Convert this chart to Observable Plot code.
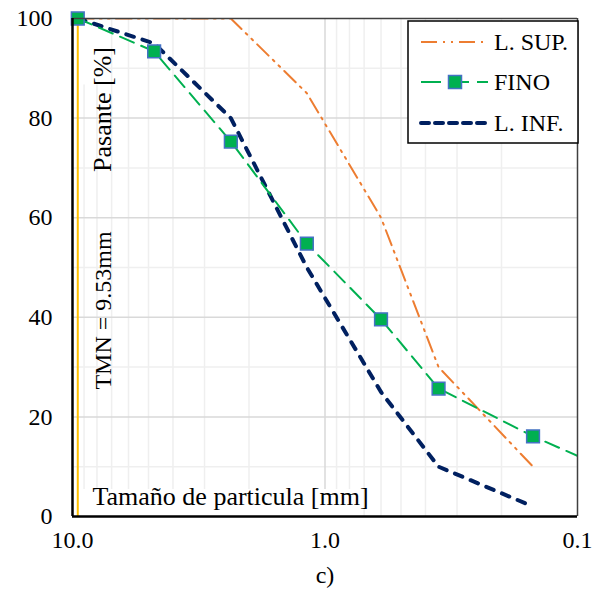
<!DOCTYPE html>
<html>
<head>
<meta charset="utf-8">
<script src="https://cdn.jsdelivr.net/npm/d3@7"></script>
<script src="https://cdn.jsdelivr.net/npm/@observablehq/plot@0.6"></script>
<style>
  html, body { margin: 0; padding: 0; background: #fff; }
</style>
</head>
<body>
<div id="chart"></div>
<script>
// ---- data ----
const sieves = [9.53, 4.75, 2.36, 1.18, 0.6, 0.355, 0.15];
const supVals = [100, 100, 100, 85, 60, 30, 10];
const finoVals = [100, 93.4, 75.3, 54.8, 39.6, 25.7, 16.1];
const infVals = [100, 95, 80, 50, 25, 10, 2];
const finoTailSize = 0.075;
const finoTailVal = 9.4;
const tmn = 9.53;

const yTicks = [0, 20, 40, 60, 80, 100];
const yMinor = [10, 30, 50, 70, 90];
const yMajor = [20, 40, 60, 80];
const xTicks = [10, 1, 0.1];
const xMinor = [9, 8, 7, 6, 5, 4, 3, 2, 0.9, 0.8, 0.7, 0.6, 0.5, 0.4, 0.3, 0.2];
const xMajor = [1];

const seriesNames = ["L. SUP.", "FINO", "L. INF."];

const sup = sieves.map((s, i) => ({size: s, val: supVals[i]}));
const fino = sieves.map((s, i) => ({size: s, val: finoVals[i]}));
const finoLine = [...fino, {size: finoTailSize, val: finoTailVal}];
const inf = sieves.map((s, i) => ({size: s, val: infVals[i]}));

const C_SUP = "#ED7D31", C_FINO = "#00B050", C_INF = "#002060", C_MK = "#4472C4";
const DASH_SUP = "16,6,2,6,2,6", DASH_FINO = "15,8", DASH_INF = "8,9";
const FS = 24;
const FONT = "'Liberation Serif', Tinos, 'Times New Roman', serif";

const chart = Plot.plot({
  width: 595,
  height: 592,
  marginTop: 18, marginRight: 18, marginBottom: 76, marginLeft: 72,
  style: {fontFamily: FONT, fontSize: FS + "px", background: "#fff", color: "#000"},
  x: {type: "log", domain: [10, 0.1], label: null},
  y: {domain: [0, 100], label: null},
  marks: [
    Plot.ruleY(yMinor, {stroke: "#efefef", strokeWidth: 1.5}),
    Plot.ruleX(xMinor, {stroke: "#efefef", strokeWidth: 1.5}),
    Plot.ruleY(yMajor, {stroke: "#d9d9d9", strokeWidth: 1.5}),
    Plot.ruleX(xMajor, {stroke: "#d9d9d9", strokeWidth: 1.5}),
    Plot.text(["Tamaño de particula [mm]"], {frameAnchor: "bottom-left", dx: 20, dy: -12, textAnchor: "start", fontSize: 26, className: "boxed", fill: "#000"}),
    Plot.text(["Pasante [%]"], {frameAnchor: "top-left", dx: 20, dy: 91, rotate: -90, textAnchor: "middle", fontSize: 26, className: "boxed", fill: "#000"}),
    Plot.text(["TMN = 9.53mm"], {frameAnchor: "top-left", dx: 21, dy: 292, rotate: -90, textAnchor: "middle", fontSize: 24, fill: "#000"}),
    Plot.ruleX([tmn], {y1: 0, y2: 100, stroke: "#FFC000", strokeWidth: 2}),
    Plot.line(sup, {x: "size", y: "val", stroke: C_SUP, strokeWidth: 2, strokeDasharray: DASH_SUP, clip: true}),
    Plot.line(inf, {x: "size", y: "val", stroke: C_INF, strokeWidth: 4, strokeDasharray: DASH_INF, strokeLinecap: "round", clip: true}),
    Plot.line(finoLine, {x: "size", y: "val", stroke: C_FINO, strokeWidth: 2, strokeDasharray: DASH_FINO, clip: true}),
    Plot.dot(fino, {x: "size", y: "val", symbol: "square", r: 7.2, fill: C_FINO, stroke: C_MK, strokeWidth: 1.5}),
    Plot.ruleY([100], {stroke: "#404040", strokeWidth: 1.5}),
    Plot.ruleX([0.1], {stroke: "#404040", strokeWidth: 1.5}),
    Plot.ruleY([0], {stroke: "#000", strokeWidth: 2.5}),
    Plot.ruleX([10], {stroke: "#000", strokeWidth: 2.5}),
    Plot.axisY(yTicks, {tickSize: 0, tickPadding: 20, fontSize: FS, label: null}),
    Plot.axisX(xTicks, {tickSize: 0, tickPadding: 14, fontSize: FS, label: null, tickFormat: d => d.toFixed(1)}),
    Plot.text(["c)"], {frameAnchor: "bottom", dy: 66, fontSize: FS, fill: "#000"})
  ]
});

document.getElementById("chart").appendChild(chart);

const svg = d3.select(chart);
svg.selectAll("text").style("font-family", FONT);
// white boxes behind boxed labels
svg.selectAll("g.boxed").each(function() {
  const bb = this.getBBox();
  const pad = 6;
  d3.select(this.parentNode).insert("rect", () => this)
    .attr("x", bb.x - pad).attr("y", bb.y - pad + 2)
    .attr("width", bb.width + 2 * pad).attr("height", bb.height + 2 * pad - 4)
    .attr("fill", "#fff");
});

// legend
const lg = svg.append("g").style("font-family", FONT).attr("font-size", FS).attr("text-anchor", "start");
lg.append("rect").attr("x", 408).attr("y", 21).attr("width", 170).attr("height", 122)
  .attr("fill", "#fff").attr("stroke", "#000").attr("stroke-width", 1.5);
const rows = [
  {name: seriesNames[0], y: 42, stroke: C_SUP, w: 2, dash: DASH_SUP, cap: "butt"},
  {name: seriesNames[1], y: 82, stroke: C_FINO, w: 2, dash: "20,8", cap: "butt", marker: true},
  {name: seriesNames[2], y: 123, stroke: C_INF, w: 4, dash: "8,6", cap: "round"}
];
rows.forEach(r => {
  lg.append("line").attr("x1", 421).attr("x2", 488).attr("y1", r.y).attr("y2", r.y)
    .attr("stroke", r.stroke).attr("stroke-width", r.w).attr("stroke-dasharray", r.dash).attr("stroke-linecap", r.cap);
  if (r.marker) {
    lg.append("rect").attr("x", 455 - 6.5).attr("y", r.y - 6.5).attr("width", 13).attr("height", 13)
      .attr("fill", C_FINO).attr("stroke", C_MK).attr("stroke-width", 1.5);
  }
  lg.append("text").attr("x", 494).attr("y", r.y).attr("dy", "0.35em").attr("text-anchor", "start")
    .attr("fill", "#000").style("font-family", FONT).text(r.name);
});
</script>
</body>
</html>
